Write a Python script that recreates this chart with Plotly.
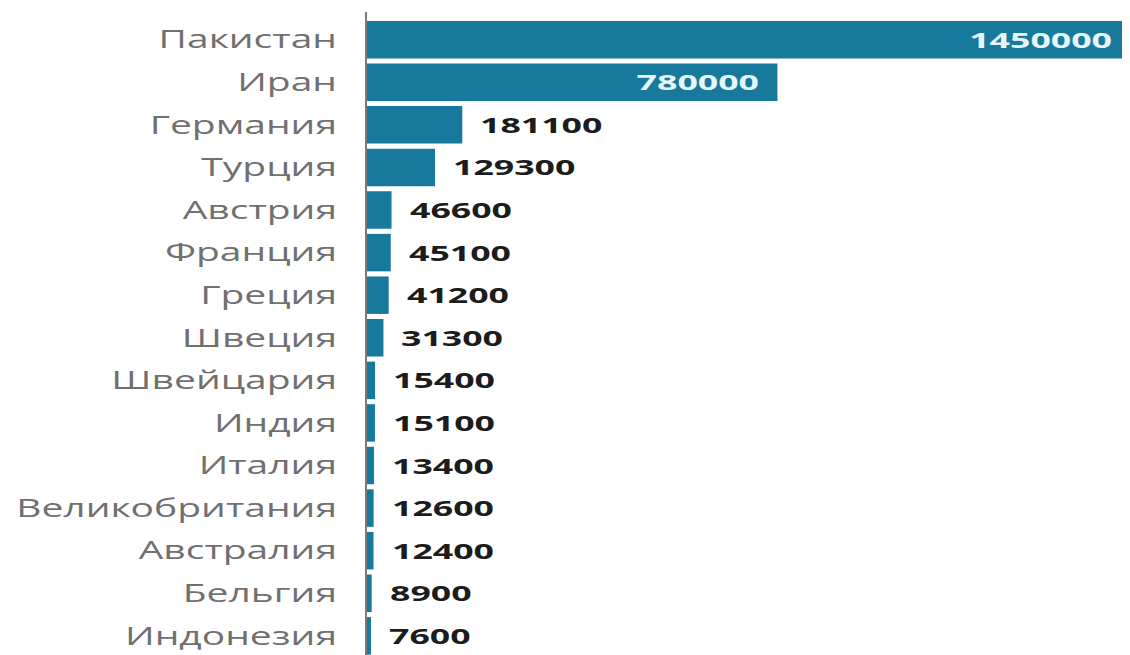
import json
import plotly.graph_objects as go

countries = ["Пакистан", "Иран", "Германия", "Турция", "Австрия", "Франция", "Греция",
             "Швеция", "Швейцария", "Индия", "Италия", "Великобритания", "Австралия",
             "Бельгия", "Индонезия"]
values = [1450000, 780000, 181100, 129300, 46600, 45100, 41200, 31300, 15400, 15100,
          13400, 12600, 12400, 8900, 7600]

BAR_COLOR = "#17799c"
X_MAX = 1450000
FONT = "Open Sans"

fig = go.Figure(go.Bar(
    x=values, y=countries, orientation="h",
    marker=dict(color=BAR_COLOR, line=dict(width=0)),
    width=0.88, hoverinfo="skip",
))

inside_flags = [v > 0.4 * X_MAX for v in values]
annotations = []
for c, v, inside in zip(countries, values, inside_flags):
    annotations.append(dict(
        x=v, y=c, xref="x", yref="y", text=str(v), showarrow=False,
        xanchor="right" if inside else "left",
        xshift=-16 if inside else 16,
        font=dict(family=FONT, size=21, weight="bold",
                  color="#e6f6fa" if inside else "#1c1c1c"),
    ))

fig.update_layout(
    width=1122, height=647,
    margin=dict(l=359, r=0, t=4, b=0),
    paper_bgcolor="white", plot_bgcolor="white",
    showlegend=False,
    annotations=annotations,
    xaxis=dict(range=[0, X_MAX], visible=False, fixedrange=True),
    yaxis=dict(
        categoryorder="array", categoryarray=countries,
        range=[14.45, -0.65],
        showline=True, linecolor="#7a7a7a", linewidth=2,
        showgrid=False, zeroline=False, ticks="",
        ticklabelstandoff=23,
        tickfont=dict(family=FONT, size=25, color="#707070"),
    ),
)

post = """
(function(){
  var gd = document.getElementById('{plot_id}');
  var SX_TICK = 1.56, SX_VAL = 1.7;
  var inside = %s;
  function scaleEl(el, sx, anchor){
    var tr = el.getAttribute('transform') || '';
    if (tr.indexOf('scale(') >= 0) return;
    var bb = el.getBBox();
    var ax = anchor === 'end' ? bb.x + bb.width : bb.x;
    el.setAttribute('transform', (tr + ' translate(' + ax + ',0) scale(' + sx + ',1) translate(' + (-ax) + ',0)').trim());
  }
  function apply(){
    gd.querySelectorAll('.ytick text').forEach(function(t){ scaleEl(t, SX_TICK, 'end'); });
    gd.querySelectorAll('.annotation').forEach(function(a){
      var idx = +a.getAttribute('data-index');
      var t = a.querySelector('text.annotation-text');
      if (t) scaleEl(t, SX_VAL, inside[idx] ? 'end' : 'start');
    });
  }
  apply();
  gd.on('plotly_afterplot', apply);
})();
""" % json.dumps(inside_flags)

fig.write_html("out.html", post_script=post)
